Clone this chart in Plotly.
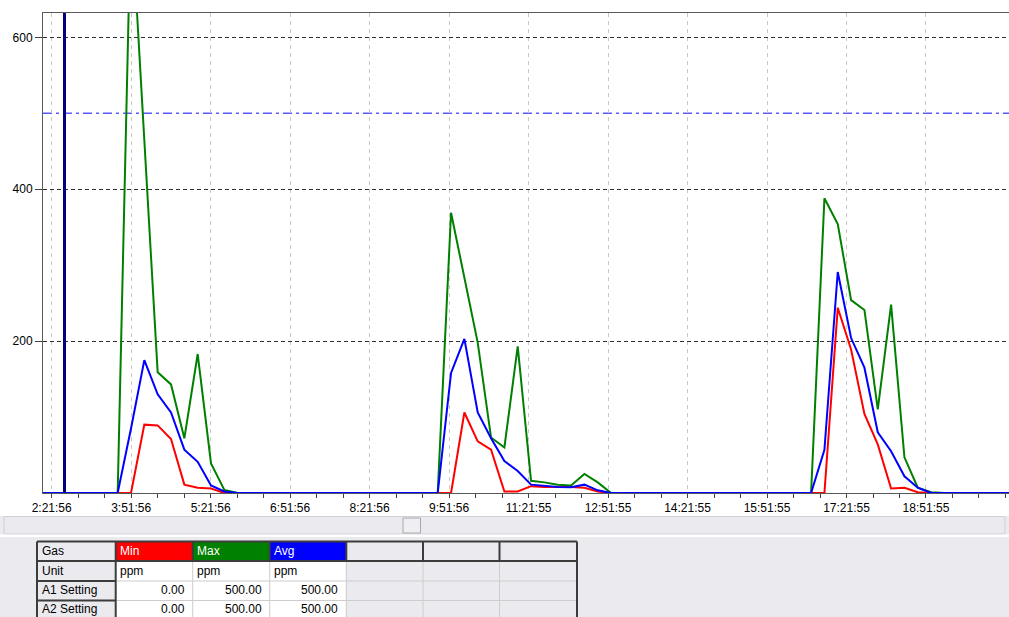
import pandas as pd
import plotly.graph_objects as go

# ---------------- data ----------------
DAY = "2000-01-01 "
sample_start = DAY + "02:06:02"
sample_step = "906s"
n_samples = 74

min_ppm = [0, 0, 0, 0, 0, 0, 0, 0, 90, 89,
           71, 11, 7, 6, 0, 0, 0, 0, 0, 0,
           0, 0, 0, 0, 0, 0, 0, 0, 0, 0,
           0, 0, 106, 68, 57, 2, 2, 9, 8, 8,
           8, 7, 2, 0, 0, 0, 0, 0, 0, 0,
           0, 0, 0, 0, 0, 0, 0, 0, 0, 0,
           244, 189, 104, 64, 6, 7, 1, 0, 0, 0,
           0, 0, 0, 0]
max_ppm = [0, 0, 0, 0, 0, 0, 0, 770, 465, 159,
           143, 72, 183, 39, 4, 0, 0, 0, 0, 0,
           0, 0, 0, 0, 0, 0, 0, 0, 0, 0,
           0, 369, 283, 198, 73, 60, 193, 16, 14, 11,
           10, 25, 14, 0, 0, 0, 0, 0, 0, 0,
           0, 0, 0, 0, 0, 0, 0, 0, 0, 388,
           354, 254, 241, 110, 248, 47, 7, 1, 0, 0,
           0, 0, 0, 0]
avg_ppm = [0, 0, 0, 0, 0, 0, 0, 85, 175, 130,
           106, 57, 41, 10, 2, 0, 0, 0, 0, 0,
           0, 0, 0, 0, 0, 0, 0, 0, 0, 0,
           0, 158, 203, 106, 72, 42, 29, 11, 9, 8,
           7.5, 11, 3.5, 0, 0, 0, 0, 0, 0, 0,
           0, 0, 0, 0, 0, 0, 0, 0, 0, 57,
           291, 204, 165, 80, 55, 22, 7, 0, 0, 0,
           0, 0, 0, 0]

tick_labels = ["2:21:56", "3:51:56", "5:21:56", "6:51:56", "8:21:56", "9:51:56",
               "11:21:55", "12:51:55", "14:21:55", "15:51:55", "17:21:55", "18:51:55"]
y_ticks = [200, 400, 600]
alarm_level = 500
cursor_time = "02:36:26"
x_start, x_end = "02:12:05", "20:25:56"
y_max = 632

gases = ["Min", "Max", "Avg"]
gas_colors = ["#ff0000", "#008000", "#0000ff"]
row_labels = ["Gas", "Unit", "A1 Setting", "A2 Setting"]
units = ["ppm", "ppm", "ppm"]
a1_setting = [0.00, 500.00, 500.00]
a2_setting = [0.00, 500.00, 500.00]

times = pd.date_range(sample_start, periods=n_samples, freq=sample_step)
tick_vals = [DAY + ("0" + t if len(t) == 7 else t) for t in tick_labels]

# ---------------- figure ----------------
FONT = "Liberation Sans, Arial, sans-serif"
fig = go.Figure()
for name, vals, col in [("Min", min_ppm, "#ff0000"), ("Max", max_ppm, "#008000"),
                        ("Avg", avg_ppm, "#0000ff")]:
    fig.add_trace(go.Scatter(x=times, y=vals, mode="lines", name=name,
                             line=dict(color=col, width=2), showlegend=False,
                             cliponaxis=True))

L, T, W, H = 43, 13, 966, 480


def px(x):
    return (x - L) / W


def py(y):
    return (T + H - y) / H


shapes = []
# alarm line
shapes.append(dict(type="line", xref="paper", yref="y", x0=0, x1=1, y0=alarm_level, y1=alarm_level,
                   line=dict(color="#5a5aff", width=1.5, dash="9px,4px,3px,4px"), layer="below"))
# cursor line
shapes.append(dict(type="line", xref="x", yref="paper", x0=DAY + cursor_time, x1=DAY + cursor_time,
                   y0=0, y1=1, line=dict(color="#000080", width=3)))

GRAY = "#ebeaef"
# lower panel background
shapes.append(dict(type="rect", xref="paper", yref="paper", x0=px(0), x1=px(1009), y0=py(516), y1=py(617),
                   fillcolor=GRAY, line=dict(width=0), layer="below"))
# scrollbar track
shapes.append(dict(type="rect", xref="paper", yref="paper", x0=px(4), x1=px(1005), y0=py(534), y1=py(516.5),
                   fillcolor=GRAY, line=dict(color="#cfcfd4", width=1), layer="below"))
# separator
shapes.append(dict(type="rect", xref="paper", yref="paper", x0=px(0), x1=px(1009), y0=py(537), y1=py(534.5),
                   fillcolor="#ffffff", line=dict(width=0), layer="below"))
# scrollbar thumb
shapes.append(dict(type="rect", xref="paper", yref="paper", x0=px(403), x1=px(420.5), y0=py(533), y1=py(518),
                   fillcolor="#efeff3", line=dict(color="#a8a8ac", width=1)))

# table
col_edges = [37, 115.7, 192.7, 269.7, 346.3, 423, 499.5, 577]
row_edges = [541.5, 561, 581, 600.5, 621]
for r in range(4):
    for c in range(7):
        if r == 0 and 1 <= c <= 3:
            fill = gas_colors[c - 1]
        elif r > 0 and 1 <= c <= 3:
            fill = "#ffffff"
        else:
            fill = GRAY
        shapes.append(dict(type="rect", xref="paper", yref="paper",
                           x0=px(col_edges[c]), x1=px(col_edges[c + 1]),
                           y0=py(row_edges[r + 1]), y1=py(row_edges[r]),
                           fillcolor=fill, line=dict(width=0)))
LIGHT = dict(color="#cdcdcd", width=1)
DARK = dict(color="#3c3c3c", width=2)
for r in (2, 3):
    shapes.append(dict(type="line", xref="paper", yref="paper", x0=px(col_edges[1]), x1=px(col_edges[7]),
                       y0=py(row_edges[r]), y1=py(row_edges[r]), line=LIGHT))
for c in range(2, 7):
    shapes.append(dict(type="line", xref="paper", yref="paper", x0=px(col_edges[c]), x1=px(col_edges[c]),
                       y0=py(row_edges[4]), y1=py(row_edges[1]), line=LIGHT))
for c in range(0, 8):
    shapes.append(dict(type="line", xref="paper", yref="paper", x0=px(col_edges[c]), x1=px(col_edges[c]),
                       y0=py(row_edges[1]), y1=py(row_edges[0]), line=DARK))
for c in (0, 1, 7):
    shapes.append(dict(type="line", xref="paper", yref="paper", x0=px(col_edges[c]), x1=px(col_edges[c]),
                       y0=py(row_edges[4]), y1=py(row_edges[1]), line=DARK))
for r in (0, 1):
    shapes.append(dict(type="line", xref="paper", yref="paper", x0=px(col_edges[0]), x1=px(col_edges[7]),
                       y0=py(row_edges[r]), y1=py(row_edges[r]), line=DARK))
for r in (2, 3):
    shapes.append(dict(type="line", xref="paper", yref="paper", x0=px(col_edges[0]), x1=px(col_edges[1]),
                       y0=py(row_edges[r]), y1=py(row_edges[r]), line=DARK))

annotations = []


def cell_text(text, r, c, align="left", color="#000000"):
    yc = (row_edges[r] + row_edges[r + 1]) / 2 - 0.5
    if r == 3:
        yc = 608.5
    if align == "left":
        x, xa = col_edges[c] + 2.5, "left"
    else:
        x, xa = col_edges[c + 1] - 6, "right"
    annotations.append(dict(text=text, xref="paper", yref="paper", x=px(x), y=py(yc),
                            xanchor=xa, yanchor="middle", showarrow=False,
                            font=dict(family=FONT, size=12, color=color)))


for r, lab in enumerate(row_labels):
    cell_text(lab, r, 0)
for i, g in enumerate(gases):
    cell_text(g, 0, i + 1, color="#ffffff")
    cell_text(units[i], 1, i + 1)
    cell_text(f"{a1_setting[i]:.2f}", 2, i + 1, align="right")
    cell_text(f"{a2_setting[i]:.2f}", 3, i + 1, align="right")

fig.update_layout(
    width=1009, height=617,
    margin=dict(l=L, r=1009 - L - W, t=T, b=617 - T - H, pad=0),
    paper_bgcolor="#ffffff", plot_bgcolor="#ffffff",
    font=dict(family=FONT, size=12, color="#000000"),
    shapes=shapes, annotations=annotations,
    xaxis=dict(type="date", range=[DAY + x_start, DAY + x_end],
               tickmode="array", tickvals=tick_vals, ticktext=tick_labels,
               ticks="outside", ticklen=4, tickcolor="#404040", tickwidth=1,
               showline=True, linecolor="#5a5a5a", linewidth=1, mirror=True,
               showgrid=True, gridcolor="#c8c8c8", gridwidth=1, griddash="4px,4px",
               minor=dict(ticks="outside", ticklen=4, tickcolor="#404040", dtick=30 * 60 * 1000,
                          tick0=DAY + "02:21:56", showgrid=False),
               zeroline=False, tickfont=dict(size=12, color="#000000")),
    yaxis=dict(range=[0, y_max], tickmode="array", tickvals=y_ticks,
               ticks="outside", ticklen=7, tickcolor="#404040",
               showline=True, linecolor="#5a5a5a", linewidth=1,
               showgrid=True, gridcolor="#303030", gridwidth=1, griddash="4px,3px",
               zeroline=False, tickfont=dict(size=12, color="#000000")),
)

fig.write_html("out.html", config={"displayModeBar": False},
               post_script="document.body.style.margin='0';document.body.style.overflow='hidden';")
